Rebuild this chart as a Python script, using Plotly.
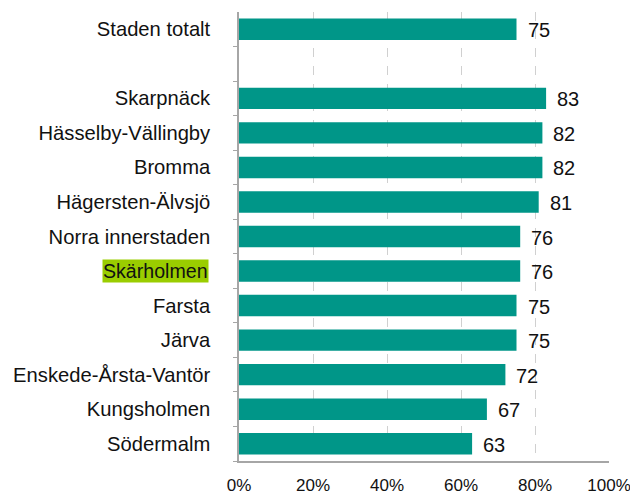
import plotly.graph_objects as go

categories = ["Staden totalt", " ", "Skarpnäck", "Hässelby-Vällingby", "Bromma",
              "Hägersten-Älvsjö", "Norra innerstaden", "Skärholmen", "Farsta",
              "Järva", "Enskede-Årsta-Vantör", "Kungsholmen", "Södermalm"]
values = [75, None, 83, 82, 82, 81, 76, 76, 75, 75, 72, 67, 63]
highlight = "Skärholmen"
xtick_vals = [0, 20, 40, 60, 80, 100]
xtick_text = ["0%", "20%", "40%", "60%", "80%", "100%"]

FONT = "Liberation Sans, Arial, sans-serif"
TEAL = "#009688"
INK = "#111111"

fig = go.Figure(go.Bar(
    x=values, y=categories, orientation="h",
    marker=dict(color=TEAL, line=dict(width=0)),
    hoverinfo="skip",
))

annotations = []
for c, v in zip(categories, values):
    if v is None:
        continue
    annotations.append(dict(x=v, y=c, xref="x", yref="y", text=str(v),
                            showarrow=False, xanchor="left", xshift=9, yshift=-1,
                            font=dict(family=FONT, size=20, color=INK)))

ticktext = ["" if c == highlight else c for c in categories]
annotations.append(dict(x=0, y=highlight, xref="paper", yref="y", text=highlight,
                        showarrow=False, xanchor="right", xshift=-30,
                        bgcolor="#9acd00", borderpad=0,
                        font=dict(family=FONT, size=19.6, color=INK)))

fig.update_layout(
    width=630, height=486,
    margin=dict(l=231, r=29, t=4, b=33),
    paper_bgcolor="white", plot_bgcolor="white",
    showlegend=False, bargap=0.38,
    font=dict(family=FONT, size=20, color=INK),
    annotations=annotations,
    xaxis=dict(range=[0, 100], tickvals=xtick_vals, ticktext=xtick_text,
               showgrid=True, gridcolor="#d0d0d0", griddash="dash", gridwidth=1,
               showline=True, linecolor="#a6a6a6", linewidth=1.5,
               zeroline=False, ticks="", ticklabelstandoff=8, automargin=False,
               tickfont=dict(family=FONT, size=17, color=INK), fixedrange=True),
    yaxis=dict(categoryorder="array", categoryarray=categories[::-1],
               tickmode="array", tickvals=categories, ticktext=ticktext,
               showline=True, linecolor="#a6a6a6", linewidth=1.5,
               ticks="outside", tickson="boundaries", ticklen=4, tickcolor="#a6a6a6",
               showgrid=False, zeroline=False, ticklabelstandoff=23, automargin=False,
               tickfont=dict(family=FONT, size=20.2, color=INK), fixedrange=True),
)

fig.write_html("out.html", config={"displayModeBar": False})
